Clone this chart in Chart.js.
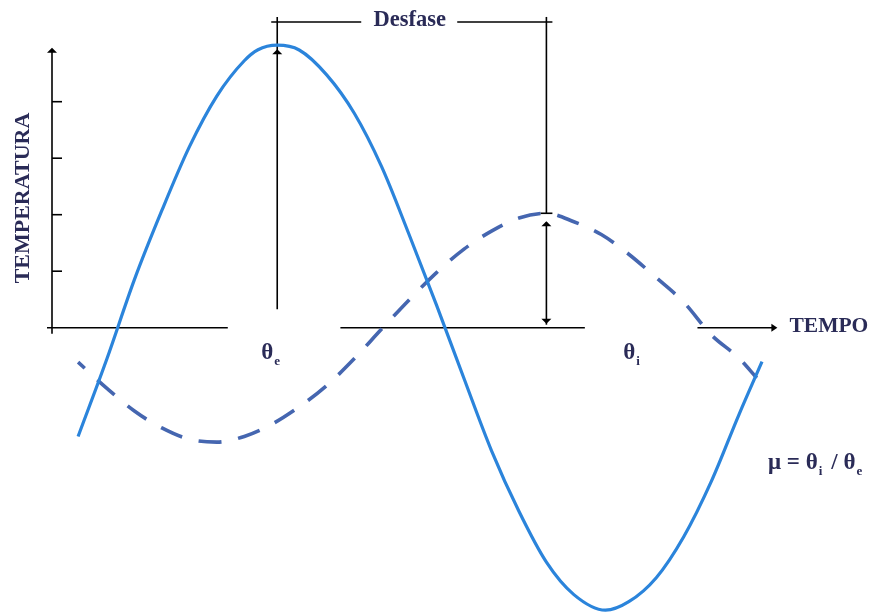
<!DOCTYPE html>
<html>
<head>
<meta charset="utf-8">
<title>Desfase</title>
<script src="https://cdn.jsdelivr.net/npm/chart.js@4.4.1/dist/chart.umd.min.js"></script>
<style>
  html, body { margin: 0; padding: 0; background: #fff; }
  #wave { display: block; }
</style>
</head>
<body>
<canvas id="wave" width="876" height="613"></canvas>
<script>
// outside temperature (solid) - time in hours, temperature in arbitrary units
const solidTime = [0.95, 2, 3, 4, 5, 6, 7, 7.5, 8.2, 9, 10, 11, 12, 13, 14, 15, 16, 17, 18, 19, 20.15, 21, 22, 23, 24, 25, 25.85];
const solidTemp = [-3.85, -1.1, 1.7, 4.15, 6.4, 8.2, 9.45, 9.84, 10.0, 9.83, 8.95, 7.6, 5.7, 3.3, 0.8, -1.8, -4.35, -6.5, -8.3, -9.45, -10.0, -9.7, -8.85, -7.4, -5.45, -3.1, -1.2];

// inside temperature (dashed)
const dashedTime = [0.95, 2, 3, 4, 5, 6, 7, 8, 9, 10, 11, 12, 13, 14, 15, 16, 17, 18, 19, 20, 21, 22, 23, 24, 25, 25.66];
const dashedTemp = [-1.22, -2.15, -2.95, -3.55, -3.95, -4.05, -3.85, -3.42, -2.8, -2.05, -1.1, -0.05, 0.98, 1.95, 2.78, 3.42, 3.88, 4.05, 3.75, 3.3, 2.6, 1.77, 0.9, -0.25, -1.07, -1.78];

// y axis tick marks
const yTicks = [2, 4, 6, 8];

// peaks used for the phase shift bracket
const outerPeak = { t: 8.2, v: 10.0 };
const innerPeak = { t: 18.0, v: 4.05 };

const textColor = '#2a2b57';
const serif = '"Liberation Serif"';

function toPoints(xs, ys) {
  return xs.map((x, i) => ({ x: x, y: ys[i] }));
}

function arrowHead(ctx, x, y, dir) {
  // dir: 'up' | 'down' | 'right'
  ctx.beginPath();
  if (dir === 'up') {
    ctx.moveTo(x, y); ctx.lineTo(x - 5, y + 5); ctx.lineTo(x + 5, y + 5);
  } else if (dir === 'down') {
    ctx.moveTo(x, y); ctx.lineTo(x - 5, y - 5); ctx.lineTo(x + 5, y - 5);
  } else {
    ctx.moveTo(x, y); ctx.lineTo(x - 6, y - 4); ctx.lineTo(x - 6, y + 4);
  }
  ctx.closePath();
  ctx.fill();
}

function line(ctx, x1, y1, x2, y2) {
  ctx.beginPath();
  ctx.moveTo(x1, y1);
  ctx.lineTo(x2, y2);
  ctx.stroke();
}

const diagram = {
  id: 'diagram',
  beforeDatasetsDraw(chart) {
    const ctx = chart.ctx;
    const x = chart.scales.x, y = chart.scales.y;
    const x0 = x.getPixelForValue(0);
    const y0 = y.getPixelForValue(0);
    ctx.save();
    ctx.strokeStyle = '#000';
    ctx.fillStyle = '#000';
    ctx.lineWidth = 1.6;

    // vertical axis + ticks
    line(ctx, x0, y0 + 6, x0, y.getPixelForValue(9.8));
    arrowHead(ctx, x0, y.getPixelForValue(9.8) - 3, 'up');
    yTicks.forEach(v => line(ctx, x0, y.getPixelForValue(v), x0 + 10, y.getPixelForValue(v)));

    // horizontal axis, broken around the labels
    line(ctx, x0 - 5, y0, x.getPixelForValue(6.4), y0);
    line(ctx, x.getPixelForValue(10.5), y0, x.getPixelForValue(19.4), y0);
    line(ctx, x.getPixelForValue(23.5), y0, x.getPixelForValue(26.3), y0);
    arrowHead(ctx, x.getPixelForValue(26.3) + 3, y0, 'right');

    // outer amplitude
    const xe = x.getPixelForValue(outerPeak.t);
    const yBracket = y.getPixelForValue(10.82);
    line(ctx, xe, y.getPixelForValue(0.65), xe, y.getPixelForValue(11.0));
    arrowHead(ctx, xe, y.getPixelForValue(outerPeak.v) + 4, 'up');

    // inner amplitude
    const xi = x.getPixelForValue(innerPeak.t);
    const yPeak = y.getPixelForValue(innerPeak.v);
    line(ctx, xi, y.getPixelForValue(11.0), xi, yPeak);
    line(ctx, xi - 6, yPeak, xi + 6, yPeak);
    line(ctx, xi, yPeak + 9, xi, y0 - 3);
    arrowHead(ctx, xi, yPeak + 8, 'up');
    arrowHead(ctx, xi, y0 - 4, 'down');

    // phase shift bracket
    line(ctx, xe - 6, yBracket, xe + 84, yBracket);
    line(ctx, xe + 180, yBracket, xi + 6, yBracket);

    // labels
    ctx.fillStyle = textColor;
    ctx.textBaseline = 'middle';
    ctx.textAlign = 'center';
    ctx.font = 'bold 22.5px ' + serif;
    ctx.fillText('Desfase', (xe + xi) / 2 - 2, yBracket - 2);

    ctx.textAlign = 'left';
    ctx.font = 'bold 21.5px ' + serif;
    ctx.fillText('TEMPO', x.getPixelForValue(26.85), y0 - 1);

    ctx.save();
    ctx.translate(23, 198);
    ctx.rotate(-Math.PI / 2);
    ctx.textAlign = 'center';
    ctx.font = 'bold 22px ' + serif;
    ctx.fillText('TEMPERATURA', 0, 0);
    ctx.restore();

    const sub = (label, s, px, py) => {
      ctx.font = 'bold 23px ' + serif;
      ctx.textAlign = 'left';
      ctx.fillText(label, px, py);
      const w = ctx.measureText(label).width;
      ctx.font = 'bold 13px ' + serif;
      ctx.fillText(s, px + w + 1, py + 9);
      return w + ctx.measureText(s).width + 1;
    };
    sub('\u03b8', 'e', xe - 16, y0 + 25);
    sub('\u03b8', 'i', x.getPixelForValue(20.8), y0 + 25);

    let px = 768;
    const py = 463;
    ctx.font = 'bold 23px ' + serif;
    ctx.fillText('\u03bc =', px, py);
    px += ctx.measureText('\u03bc = ').width;
    px += sub('\u03b8', 'i', px, py) + 9;
    ctx.font = 'bold 23px ' + serif;
    ctx.fillText('/', px, py);
    px += ctx.measureText('/ ').width;
    sub('\u03b8', 'e', px, py);

    ctx.restore();
  }
};

new Chart(document.getElementById('wave').getContext('2d'), {
  type: 'scatter',
  data: {
    datasets: [
      {
        label: 'Exterior',
        data: toPoints(solidTime, solidTemp),
        showLine: true,
        borderColor: '#2b84db',
        borderWidth: 3.2,
        pointRadius: 0,
        cubicInterpolationMode: 'monotone',
        clip: false
      },
      {
        label: 'Interior',
        data: toPoints(dashedTime, dashedTemp),
        showLine: true,
        borderColor: '#4566b0',
        borderWidth: 3.6,
        borderDash: [23, 17],
        borderDashOffset: 14,
        pointRadius: 0,
        cubicInterpolationMode: 'monotone',
        clip: false
      }
    ]
  },
  options: {
    responsive: false,
    animation: false,
    layout: { padding: { left: 52, right: 0, top: 0, bottom: 0 } },
    plugins: {
      legend: { display: false },
      tooltip: { enabled: false }
    },
    scales: {
      x: { type: 'linear', min: 0, max: 30, display: false },
      y: { type: 'linear', min: -10.1, max: 11.6, display: false }
    }
  },
  plugins: [diagram]
});
</script>
</body>
</html>
